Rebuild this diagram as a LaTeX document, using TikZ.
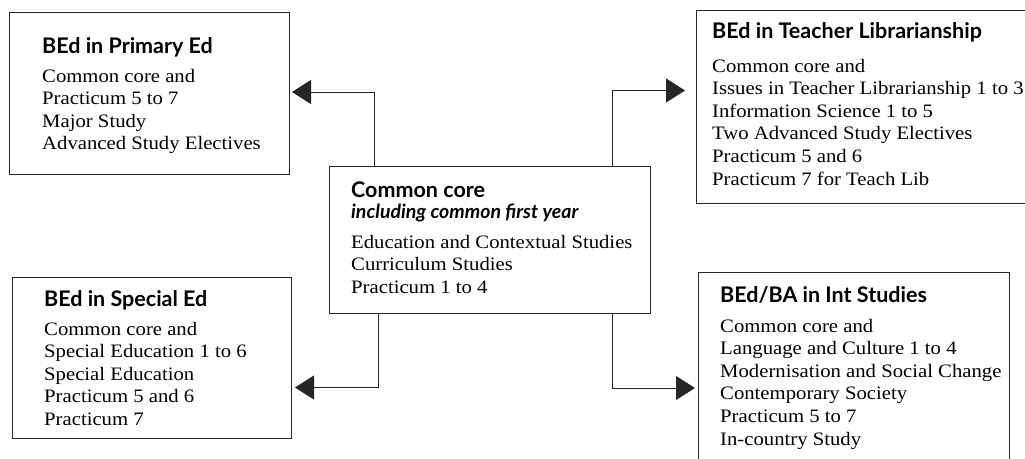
\documentclass[tikz,border=0pt]{standalone}
\usepackage{fontspec}
\setmainfont[FakeStretch=1.09]{Liberation Serif}
\newfontfamily\ttlfont{Lato}
\usetikzlibrary{arrows.meta}
\tikzset{
  box/.style={draw=black!85, line width=0.9pt, inner sep=0pt, outer sep=0pt, anchor=north west},
  ttl/.style={anchor=base west, inner sep=0pt, font=\ttlfont\bfseries\fontsize{21.5}{25}\selectfont},
  sub/.style={anchor=base west, inner sep=0pt, font=\ttlfont\bfseries\itshape\fontsize{19.5}{22}\selectfont},
  body/.style={anchor=base west, inner sep=0pt, font=\fontsize{19}{22.6}\selectfont},
  conn/.style={draw=black!85, line width=0.9pt, -{Triangle[length=19pt,width=24pt]}}
}
\newcommand{\lines}[1]{\begin{tabular}[t]{@{}l@{}}#1\end{tabular}}
\begin{document}
\begin{tikzpicture}[x=1pt,y=-1pt]
\useasboundingbox (0,0) rectangle (1025,458);
% boxes
\node[box, minimum width=280pt, minimum height=162pt] (prim) at (9,12) {};
\node[box, minimum width=340pt, minimum height=193pt] (lib) at (696,10) {};
\node[box, minimum width=321pt, minimum height=147pt] (core) at (329,166) {};
\node[box, minimum width=279pt, minimum height=161pt] (spec) at (12,277) {};
\node[box, minimum width=311pt, minimum height=200pt] (intl) at (698,272) {};
% texts
\node[ttl] (primT) at (42,53) {BEd in Primary Ed};
\node[body] (primB) at (42,82) {\lines{Common core and\\Practicum 5 to 7\\Major Study\\Advanced Study Electives}};
\node[ttl] (libT) at (712,38) {BEd in Teacher Librarianship};
\node[body] (libB) at (712,72) {\lines{Common core and\\Issues in Teacher Librarianship 1 to 3\\Information Science 1 to 5\\Two Advanced Study Electives\\Practicum 5 and 6\\Practicum 7 for Teach Lib}};
\node[ttl] (coreT) at (351,197) {Common core};
\node[sub] (coreS) at (351,218) {including common first year};
\node[body] (coreB) at (351,248) {\lines{Education and Contextual Studies\\Curriculum Studies\\Practicum 1 to 4}};
\node[ttl] (specT) at (44,306) {BEd in Special Ed};
\node[body] (specB) at (44,335) {\lines{Common core and\\Special Education 1 to 6\\Special Education\\Practicum 5 and 6\\Practicum 7}};
\node[ttl] (intlT) at (720,302) {BEd/BA in Int Studies};
\node[body] (intlB) at (720,332) {\lines{Common core and\\Language and Culture 1 to 4\\Modernisation and Social Change\\Contemporary Society\\Practicum 5 to 7\\In-country Study}};
% connectors
\draw[conn] ([xshift=45pt]core.north west) |- ([xshift=3pt,yshift=1pt]prim.east);
\draw[conn] ([xshift=-38pt]core.north east) |- ([xshift=-11pt,yshift=16pt]lib.west);
\draw[conn] ([xshift=49pt]core.south west) |- ([xshift=4pt,yshift=-30pt]spec.east);
\draw[conn] ([xshift=-38pt]core.south east) |- ([xshift=-3pt,yshift=-16pt]intl.west);
\end{tikzpicture}
\end{document}
